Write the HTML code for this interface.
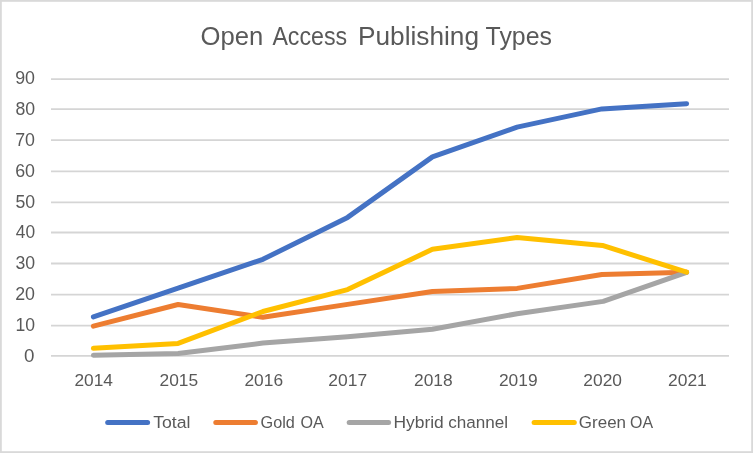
<!DOCTYPE html>
<html><head><meta charset="utf-8"><title>Open Access Publishing Types</title>
<style>html,body{margin:0;padding:0;background:#fff;}body{width:753px;height:453px;overflow:hidden;}svg{display:block;will-change:transform;}text{font-family:"Liberation Sans",sans-serif;fill:#595959;}</style></head><body>
<svg width="753" height="453" viewBox="0 0 753 453">
<rect x="0" y="0" width="753" height="453" fill="#fff"/>
<rect x="0.9" y="0.9" width="751.2" height="451.2" fill="none" stroke="#D9D9D9" stroke-width="1.8"/>
<line x1="51" y1="355.80" x2="729" y2="355.80" stroke="#D5D5D5" stroke-width="1.8"/>
<line x1="51" y1="325.70" x2="729" y2="325.70" stroke="#D5D5D5" stroke-width="1.8"/>
<line x1="51" y1="294.60" x2="729" y2="294.60" stroke="#D5D5D5" stroke-width="1.8"/>
<line x1="51" y1="263.50" x2="729" y2="263.50" stroke="#D5D5D5" stroke-width="1.8"/>
<line x1="51" y1="232.50" x2="729" y2="232.50" stroke="#D5D5D5" stroke-width="1.8"/>
<line x1="51" y1="202.40" x2="729" y2="202.40" stroke="#D5D5D5" stroke-width="1.8"/>
<line x1="51" y1="171.30" x2="729" y2="171.30" stroke="#D5D5D5" stroke-width="1.8"/>
<line x1="51" y1="140.15" x2="729" y2="140.15" stroke="#D5D5D5" stroke-width="1.8"/>
<line x1="51" y1="109.20" x2="729" y2="109.20" stroke="#D5D5D5" stroke-width="1.8"/>
<line x1="51" y1="79.05" x2="729" y2="79.05" stroke="#D5D5D5" stroke-width="1.8"/>
<text transform="translate(24.05,361.95) scale(1.0745,1.0000)" font-size="17.45" fill="#646464">0</text>
<text transform="translate(15.49,331.08) scale(1.0072,1.0000)" font-size="17.45" fill="#646464">10</text>
<text transform="translate(15.21,300.21) scale(1.0225,1.0000)" font-size="17.45" fill="#646464">20</text>
<text transform="translate(15.39,269.34) scale(1.0126,1.0000)" font-size="17.45" fill="#646464">30</text>
<text transform="translate(15.75,238.47) scale(0.9933,1.0000)" font-size="17.45" fill="#646464">40</text>
<text transform="translate(15.39,207.60) scale(1.0126,1.0000)" font-size="17.45" fill="#646464">50</text>
<text transform="translate(15.21,176.73) scale(1.0225,1.0000)" font-size="17.45" fill="#646464">60</text>
<text transform="translate(15.21,145.86) scale(1.0225,1.0000)" font-size="17.45" fill="#646464">70</text>
<text transform="translate(15.39,114.99) scale(1.0126,1.0000)" font-size="17.45" fill="#646464">80</text>
<text transform="translate(15.21,84.12) scale(1.0225,1.0000)" font-size="17.45" fill="#646464">90</text>
<text transform="translate(74.44,386.20) scale(1.0052,1.0000)" font-size="17.2" fill="#646464">2014</text>
<text transform="translate(159.48,386.20) scale(1.0099,1.0000)" font-size="17.2" fill="#646464">2015</text>
<text transform="translate(244.43,386.20) scale(1.0099,1.0000)" font-size="17.2" fill="#646464">2016</text>
<text transform="translate(328.33,386.20) scale(1.0147,1.0000)" font-size="17.2" fill="#646464">2017</text>
<text transform="translate(414.03,386.20) scale(1.0099,1.0000)" font-size="17.2" fill="#646464">2018</text>
<text transform="translate(498.93,386.20) scale(1.0099,1.0000)" font-size="17.2" fill="#646464">2019</text>
<text transform="translate(583.33,386.20) scale(1.0099,1.0000)" font-size="17.2" fill="#646464">2020</text>
<text transform="translate(667.98,386.20) scale(1.0147,1.0000)" font-size="17.2" fill="#646464">2021</text>
<text transform="translate(200.42,44.80) scale(1.0266,1.0000)" font-size="25">Open</text>
<text transform="translate(272.40,44.80) scale(0.9279,1.0000)" font-size="25">Access</text>
<text transform="translate(358.00,44.80) scale(1.0497,1.0000)" font-size="25">Publishing</text>
<text transform="translate(485.60,44.80) scale(0.9946,1.0000)" font-size="25">Types</text>
<polyline points="93.4,316.9 178.1,288.1 262.9,259.3 347.6,217.4 432.4,156.9 517.1,127.1 601.9,108.9 686.6,103.7" fill="none" stroke="#4472C4" stroke-width="5" stroke-linecap="round" stroke-linejoin="round"/>
<polyline points="93.4,326.2 178.1,304.5 262.9,317.2 347.6,304.4 432.4,291.5 517.1,288.4 601.9,274.5 686.6,272.2" fill="none" stroke="#ED7D31" stroke-width="5" stroke-linecap="round" stroke-linejoin="round"/>
<polyline points="93.4,355.2 178.1,353.5 262.9,343.1 347.6,336.8 432.4,329.3 517.1,313.7 603.2,301.4 686.6,272.4" fill="none" stroke="#A5A5A5" stroke-width="5" stroke-linecap="round" stroke-linejoin="round"/>
<polyline points="93.4,348.3 178.1,343.4 262.9,311.5 347.6,289.6 432.4,249.3 517.1,237.5 602.4,245.4 686.6,272.2" fill="none" stroke="#FFC000" stroke-width="5" stroke-linecap="round" stroke-linejoin="round"/>
<line x1="107.7" y1="422.5" x2="147.6" y2="422.5" stroke="#4472C4" stroke-width="5" stroke-linecap="round"/>
<text transform="translate(153.15,427.60) scale(1.0527,1.0000)" font-size="16.8" fill="#646464">Total</text>
<line x1="215.8" y1="422.5" x2="255.4" y2="422.5" stroke="#ED7D31" stroke-width="5" stroke-linecap="round"/>
<text transform="translate(260.59,427.60) scale(0.9673,1.0000)" font-size="16.8" fill="#646464">Gold</text>
<text transform="translate(300.39,427.60) scale(0.9592,1.0000)" font-size="16.8" fill="#646464">OA</text>
<line x1="349.2" y1="422.5" x2="388.6" y2="422.5" stroke="#A5A5A5" stroke-width="5" stroke-linecap="round"/>
<text transform="translate(393.40,427.60) scale(1.0384,1.0000)" font-size="16.8" fill="#646464">Hybrid</text>
<text transform="translate(448.32,427.60) scale(1.0172,1.0000)" font-size="16.8" fill="#646464">channel</text>
<line x1="534.1" y1="422.5" x2="574.3" y2="422.5" stroke="#FFC000" stroke-width="5" stroke-linecap="round"/>
<text transform="translate(578.85,427.60) scale(1.0115,1.0000)" font-size="16.8" fill="#646464">Green</text>
<text transform="translate(630.11,427.60) scale(0.9464,1.0000)" font-size="16.8" fill="#646464">OA</text>
</svg></body></html>
